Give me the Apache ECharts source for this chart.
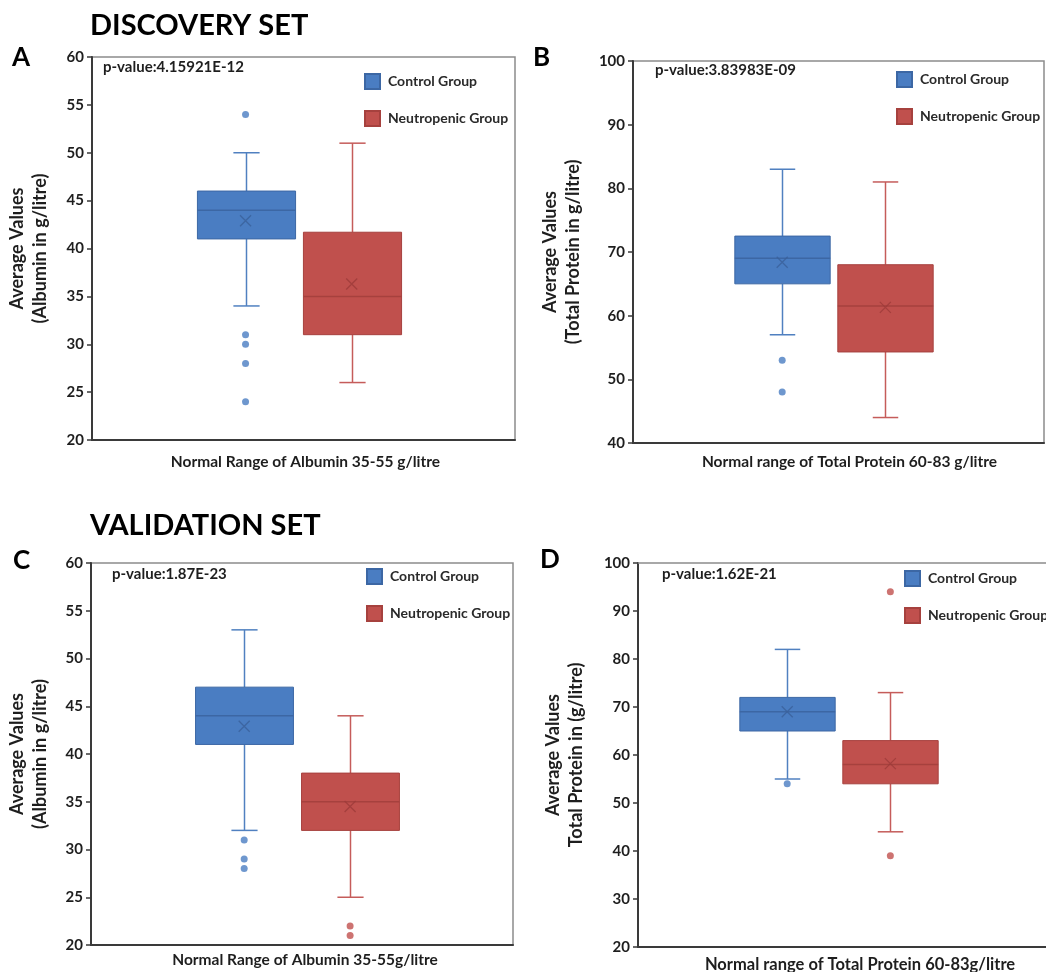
<!DOCTYPE html>
<html lang="en" style="height: 100%">

<head>
    <meta charset="utf-8">
</head>

<body style="height: 100%; margin: 0; background: #fff">
    <div id="container" style="width: 1046px; height: 972px"></div>

    <script type="text/javascript" src="https://cdn.jsdelivr.net/npm/echarts@6/dist/echarts.min.js"></script>

    <script type="text/javascript">
        // box stats are [lower whisker, Q1, median, Q3, upper whisker]
        var groups = ['Control Group', 'Neutropenic Group'];

        // A - discovery set, albumin
        var albDiscControl = [34, 41, 44, 46, 50];
        var albDiscNeutro = [26, 31, 35, 41.7, 51];
        var albDiscMeans = [42.9, 36.3];
        var albDiscOutControl = [54, 31, 30, 28, 24];
        var albDiscOutNeutro = [];

        // B - discovery set, total protein
        var protDiscControl = [57, 65, 69, 72.5, 83];
        var protDiscNeutro = [44, 54.3, 61.5, 68, 81];
        var protDiscMeans = [68.4, 61.3];
        var protDiscOutControl = [53, 48];
        var protDiscOutNeutro = [];

        // C - validation set, albumin
        var albValControl = [32, 41, 44, 47, 53];
        var albValNeutro = [25, 32, 35, 38, 44];
        var albValMeans = [42.9, 34.5];
        var albValOutControl = [31, 29, 28];
        var albValOutNeutro = [22, 21];

        // D - validation set, total protein
        var protValControl = [55, 65, 69, 72, 82];
        var protValNeutro = [44, 54, 58, 63, 73];
        var protValMeans = [69, 58.2];
        var protValOutControl = [54];
        var protValOutNeutro = [94, 39];

        var pValues = ['p-value:4.15921E-12', 'p-value:3.83983E-09', 'p-value:1.87E-23', 'p-value:1.62E-21'];
        var xNames = [
            'Normal Range of Albumin 35-55 g/litre',
            'Normal range of Total Protein 60-83 g/litre',
            'Normal Range of Albumin 35-55g/litre',
            'Normal range of Total Protein 60-83g/litre'
        ];
        var yNames = [
            'Average Values\n(Albumin in g/litre)',
            'Average Values\n(Total Protein in g/litre)',
            'Average Values\n(Albumin in g/litre)',
            'Average Values\nTotal Protein in (g/litre)'
        ];
        var yMin = [20, 40, 20, 20];
        var yMax = [60, 100, 60, 100];
        var yStep = [5, 10, 5, 10];

        var panelData = [
            [albDiscControl, albDiscNeutro, albDiscMeans, albDiscOutControl, albDiscOutNeutro],
            [protDiscControl, protDiscNeutro, protDiscMeans, protDiscOutControl, protDiscOutNeutro],
            [albValControl, albValNeutro, albValMeans, albValOutControl, albValOutNeutro],
            [protValControl, protValNeutro, protValMeans, protValOutControl, protValOutNeutro]
        ];

        // layout
        var grids = [
            { left: 92, top: 57, width: 423, height: 383 },
            { left: 633, top: 61, width: 411, height: 382 },
            { left: 91, top: 563, width: 422, height: 382 },
            { left: 638, top: 563, width: 408, height: 384 }   // cut off by the right edge, as in the source
        ];
        var xSpan = [1, 1, 1, 408 / 411];
        var boxPos = [0.363, 0.614];   // where the two boxes sit along the hidden x scale
        var BOX_W = 0.232, CAP_W = 0.062;
        var legendPos = [[364, 73], [896, 71], [366, 568], [904, 570]];
        var pPos = [[103, 60], [655, 63], [112, 567], [662, 567]];
        var yNameGap = [40, 48, 39, 50];
        var xNameGap = [14, 11, 7, 9];
        var xNameShift = [4, 22, 6, 36];
        var xNameSize = [15.5, 15.5, 15.5, 16.5];

        var FONT = 'Lato';
        var FRAME = '#8c8c8c';
        var palette = [
            { fill: '#4a7dc2', edge: '#3c67a4', whisker: '#5080c0', mean: '#39609a' },
            { fill: '#c0504d', edge: '#a6413e', whisker: '#c55c5a', mean: '#9c3b39' }
        ];

        var dom = document.getElementById('container');
        var myChart = echarts.init(dom, null, { renderer: 'canvas' });

        function boxRenderer(pal) {
            return function (params, api) {
                var x = api.value(0);
                var lo = api.coord([x, api.value(1)]);
                var q1 = api.coord([x, api.value(2)]);
                var md = api.coord([x, api.value(3)]);
                var q3 = api.coord([x, api.value(4)]);
                var hi = api.coord([x, api.value(5)]);
                var bw = api.size([BOX_W, 0])[0];
                var cw = api.size([CAP_W, 0])[0];
                var c = Math.round(lo[0]) + 0.5;
                var wStyle = { stroke: pal.whisker, lineWidth: 1.5 };
                return {
                    type: 'group',
                    children: [
                        { type: 'line', shape: { x1: c, y1: hi[1], x2: c, y2: q3[1] }, style: wStyle },
                        { type: 'line', shape: { x1: c, y1: q1[1], x2: c, y2: lo[1] }, style: wStyle },
                        { type: 'line', shape: { x1: c - cw / 2, y1: hi[1], x2: c + cw / 2, y2: hi[1] }, style: wStyle },
                        { type: 'line', shape: { x1: c - cw / 2, y1: lo[1], x2: c + cw / 2, y2: lo[1] }, style: wStyle },
                        {
                            type: 'rect',
                            shape: { x: c - bw / 2, y: q3[1], width: bw, height: q1[1] - q3[1] },
                            style: { fill: pal.fill, stroke: pal.edge, lineWidth: 1 }
                        },
                        { type: 'line', shape: { x1: c - bw / 2, y1: md[1], x2: c + bw / 2, y2: md[1] }, style: { stroke: pal.edge, lineWidth: 1.5 } }
                    ]
                };
            };
        }

        var grid = [], xAxis = [], yAxis = [], series = [], legend = [], title = [];

        title.push({ text: 'DISCOVERY SET', left: 90, top: 11, padding: 0, textStyle: { fontFamily: FONT, fontSize: 29, fontWeight: 'bold', color: '#000' } });
        title.push({ text: 'VALIDATION SET', left: 90, top: 511, padding: 0, textStyle: { fontFamily: FONT, fontSize: 29, fontWeight: 'bold', color: '#000' } });
        var letters = [['A', 12, 45], ['B', 533, 45], ['C', 13, 548], ['D', 540, 547]];
        letters.forEach(function (l) {
            title.push({ text: l[0], left: l[1], top: l[2], padding: 0, textStyle: { fontFamily: FONT, fontSize: 26, fontWeight: 'bold', color: '#000' } });
        });

        panelData.forEach(function (pd, i) {
            // panel D loses its right edge, so its frame is drawn by a top axis instead
            var framed = i < 3;
            grid.push(Object.assign({
                show: framed, borderColor: FRAME, borderWidth: 1.5, backgroundColor: '#fff',
                outerBoundsMode: 'none'
            }, grids[i]));
            xAxis.push({
                type: 'value', gridIndex: i, min: 0, max: xSpan[i],
                name: xNames[i], nameLocation: 'middle', nameGap: xNameGap[i],
                nameTextStyle: { fontFamily: FONT, fontSize: xNameSize[i], fontWeight: 'bold', color: '#1e1e1e', padding: [0, 0, 0, xNameShift[i]] },
                axisLine: { show: true, lineStyle: { color: '#3a3a3a', width: 2 } },
                axisTick: { show: false }, axisLabel: { show: false }, splitLine: { show: false }
            });
            yAxis.push({
                type: 'value', gridIndex: i, min: yMin[i], max: yMax[i], interval: yStep[i],
                name: yNames[i], nameLocation: 'middle', nameRotate: 90, nameGap: yNameGap[i],
                nameTextStyle: { fontFamily: FONT, fontSize: 18, fontWeight: 'bold', color: '#1e1e1e', lineHeight: 23 },
                axisLine: { show: true, lineStyle: { color: '#3a3a3a', width: 2 } },
                axisTick: { show: true, length: 5, lineStyle: { color: '#3a3a3a', width: 1.5 } },
                axisLabel: { margin: 8, fontFamily: FONT, fontSize: 15, fontWeight: 'bold', color: '#1e1e1e' },
                splitLine: { show: false }
            });
            legend.push({
                data: groups, orient: 'vertical', left: legendPos[i][0], top: legendPos[i][1],
                padding: 0, itemGap: 20, itemWidth: 15, itemHeight: 15, icon: 'rect', selectedMode: false,
                textStyle: { fontFamily: FONT, fontSize: 14, fontWeight: 'bold', color: '#2a2a2a', padding: [0, 0, 0, 3] }
            });
            title.push({ text: pValues[i], left: pPos[i][0], top: pPos[i][1], padding: 0, textStyle: { fontFamily: FONT, fontSize: 15, fontWeight: 'bold', color: '#1e1e1e' } });

            [0, 1].forEach(function (g) {
                var st = pd[g];
                var pal = palette[g];
                series.push({
                    type: 'custom', name: groups[g], xAxisIndex: i, yAxisIndex: i,
                    itemStyle: { color: pal.fill, borderColor: pal.edge, borderWidth: 1 },
                    renderItem: boxRenderer(pal),
                    encode: { x: 0, y: [1, 2, 3, 4, 5] },
                    data: [[boxPos[g]].concat(st)],
                    silent: true, z: 2
                });
                series.push({
                    type: 'scatter', name: groups[g] + ' mean', xAxisIndex: i, yAxisIndex: i,
                    symbol: 'path://M0,0L10,10M10,0L0,10', symbolSize: 11,
                    itemStyle: { color: 'transparent', borderColor: pal.mean, borderWidth: 1.3 },
                    data: [[boxPos[g], pd[2][g]]], silent: true, z: 3
                });
                series.push({
                    type: 'scatter', name: groups[g] + ' outliers', xAxisIndex: i, yAxisIndex: i,
                    symbol: 'circle', symbolSize: 7,
                    itemStyle: { color: pal.fill },
                    data: pd[3 + g].map(function (v) { return [boxPos[g], v]; }), silent: true, z: 3
                });
            });
        });

        // top edge of panel D
        xAxis.push({
            type: 'value', gridIndex: 3, position: 'top', min: 0, max: 1,
            axisLine: { show: true, onZero: false, lineStyle: { color: FRAME, width: 1.5 } },
            axisTick: { show: false }, axisLabel: { show: false }, splitLine: { show: false }
        });

        var option = {
            backgroundColor: '#fff',
            animation: false,
            title: title,
            legend: legend,
            grid: grid,
            xAxis: xAxis,
            yAxis: yAxis,
            series: series
        };

        myChart.setOption(option);
        window.addEventListener('resize', myChart.resize);
    </script>
</body>

</html>
